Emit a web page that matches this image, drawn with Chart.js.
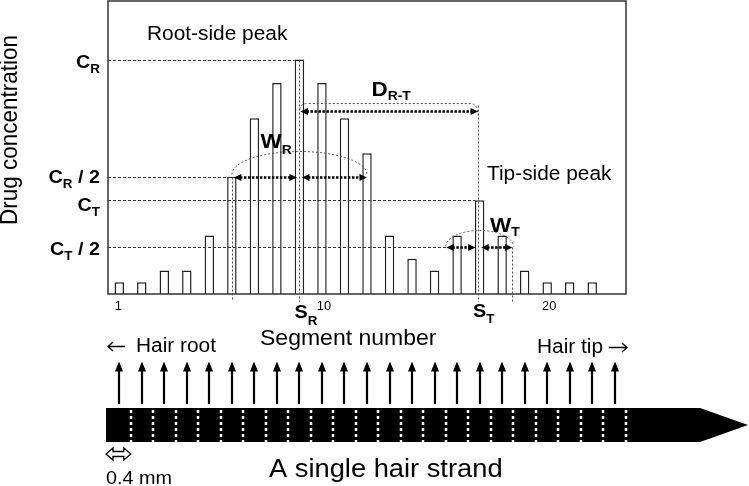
<!DOCTYPE html>
<html>
<head>
<meta charset="utf-8">
<script src="https://cdn.jsdelivr.net/npm/chart.js@4/dist/chart.umd.min.js"></script>
<style>
    html, body { margin: 0; padding: 0; background: #fff; }
    #wrap { width: 749px; height: 486px; }
</style>
</head>
<body>
<div id="wrap"><canvas id="hair-chart" width="749" height="486"></canvas></div>
<script>
const segments = ["1", "2", "3", "4", "5", "6", "7", "8", "9", "10", "11", "12",
    "13", "14", "15", "16", "17", "18", "19", "20", "21", "22", "23"];
const concentration = [0.5, 0.5, 1, 1, 2.5, 5, 7.5, 9, 10, 9, 7.5, 6,
    2.5, 1.5, 1, 2.5, 4, 2.5, 1, 0.5, 0.5, 0.5, 0];
const tickSegments = ["1", "10", "20"];

// peaks and half-height spans, in segment numbers
const rootPeak = 9;
const tipPeak = 17;
const rootSpan = [6, 12];
const tipSpan = [15.5, 18.5];
const distanceLevel = 7.8;

const levelSubs = ["R", "R", "T", "T"];
const levelTails = ["", " / 2", "", " / 2"];
const levelValues = [
    concentration[rootPeak - 1],
    concentration[rootPeak - 1] / 2,
    concentration[tipPeak - 1],
    concentration[tipPeak - 1] / 2
];

const FONT = "\"Liberation Sans\", Arial, sans-serif";
const STRETCH = 1.07; // the original lettering is a little wide

function setFont(ctx, size, bold, family) {
    ctx.font = `${bold ? "bold " : ""}${size}px ${family || FONT}`;
}

function stretched(ctx, str, x, base) {
    ctx.save();
    ctx.translate(x, base);
    ctx.scale(STRETCH, 1);
    ctx.fillText(str, 0, 0);
    ctx.restore();
    return ctx.measureText(str).width * STRETCH;
}

function subText(ctx, x, base, main, sub, tail, size, subSize, drop, alignRight) {
    setFont(ctx, size, true);
    const w1 = ctx.measureText(main).width * STRETCH;
    const w3 = ctx.measureText(tail).width * STRETCH;
    setFont(ctx, subSize, true);
    const w2 = ctx.measureText(sub).width * STRETCH;
    const sx = alignRight ? x - (w1 + w2 + w3) : x;

    ctx.textAlign = "left";
    ctx.textBaseline = "alphabetic";
    setFont(ctx, size, true);
    stretched(ctx, main, sx, base);
    stretched(ctx, tail, sx + w1 + w2, base);
    setFont(ctx, subSize, true);
    stretched(ctx, sub, sx + w1, base + drop);
}

function plainText(ctx, str, x, base, size, align) {
    setFont(ctx, size, false);
    ctx.textBaseline = "alphabetic";
    ctx.textAlign = "left";
    const w = ctx.measureText(str).width * STRETCH;
    const sx = align === "center" ? x - w / 2 : x;
    return stretched(ctx, str, sx, base);
}

function head(ctx, tipX, tipY, dx, dy, len, half) {
    const bx = tipX - dx * len;
    const by = tipY - dy * len;
    ctx.beginPath();
    ctx.moveTo(tipX, tipY);
    ctx.lineTo(bx - dy * half, by + dx * half);
    ctx.lineTo(bx + dy * half, by - dx * half);
    ctx.closePath();
    ctx.fill();
}

function dottedArrow(ctx, x1, x2, yy) {
    ctx.save();
    ctx.strokeStyle = "#000";
    ctx.fillStyle = "#000";
    ctx.lineWidth = 2.5;
    ctx.setLineDash([2.5, 1.5]);
    ctx.beginPath();
    ctx.moveTo(x1 + 6, yy);
    ctx.lineTo(x2 - 6, yy);
    ctx.stroke();
    ctx.setLineDash([]);
    head(ctx, x1, yy, -1, 0, 7.5, 3.5);
    head(ctx, x2, yy, 1, 0, 7.5, 3.5);
    ctx.restore();
}

function thinDash(ctx, color, dash) {
    ctx.strokeStyle = color;
    ctx.lineWidth = 1;
    ctx.setLineDash(dash);
}

function thinArrow(ctx, x1, x2, yy) {
    // plain text arrow, like the ← and → glyphs of the original
    const dir = Math.sign(x2 - x1);
    ctx.save();
    ctx.strokeStyle = "#000";
    ctx.lineWidth = 1.3;
    ctx.beginPath();
    ctx.moveTo(x1, yy);
    ctx.lineTo(x2, yy);
    ctx.moveTo(x2 - dir * 5, yy - 4.5);
    ctx.lineTo(x2, yy);
    ctx.lineTo(x2 - dir * 5, yy + 4.5);
    ctx.stroke();
    ctx.restore();
}

const diagramPlugin = {
    id: "hairDiagram",
    afterDatasetsDraw(chart) {
        const { ctx, chartArea: area, scales: { x, y } } = chart;
        const xAt = seg => x.getPixelForValue(seg - 1);
        const yAt = v => Math.round(y.getPixelForValue(v)) + 0.5;
        const barHalf = chart.getDatasetMeta(0).data[0].width / 2;
        const dY = yAt(distanceLevel);

        ctx.save();

        // frame
        ctx.strokeStyle = "#333";
        ctx.lineWidth = 1.5;
        ctx.strokeRect(area.left, area.top, area.width, area.height);

        // level lines
        const levelEnds = [
            xAt(rootPeak) - barHalf,
            xAt(rootSpan[0]),
            xAt(tipPeak) - barHalf,
            xAt(tipSpan[0])
        ];
        thinDash(ctx, "#333", [3, 2]);
        levelValues.forEach((v, i) => {
            ctx.beginPath();
            ctx.moveTo(area.left, yAt(v));
            ctx.lineTo(levelEnds[i], yAt(v));
            ctx.stroke();
        });

        // vertical guides
        thinDash(ctx, "#555", [2, 2]);
        const guides = [
            [xAt(rootPeak), yAt(levelValues[0]), area.bottom + 8],
            [xAt(rootSpan[0]), yAt(levelValues[1]), area.bottom + 6],
            [xAt(tipPeak) - 1.5, dY - 6, area.bottom + 8],
            [xAt(tipSpan[1]) - 1, yAt(levelValues[3]), area.bottom + 8]
        ];
        guides.forEach(([gx, y1, y2]) => {
            ctx.beginPath();
            ctx.moveTo(Math.round(gx) + 0.5, y1);
            ctx.lineTo(Math.round(gx) + 0.5, y2);
            ctx.stroke();
        });

        // arcs over the width arrows
        const rootMid = (xAt(rootSpan[0]) + xAt(rootSpan[1])) / 2;
        const rootRx = (xAt(rootSpan[1]) - xAt(rootSpan[0])) / 2;
        ctx.beginPath();
        ctx.ellipse(rootMid, yAt(levelValues[1]) - 3, rootRx, 23, 0, Math.PI, 2 * Math.PI);
        ctx.stroke();

        const tipMid = (xAt(tipSpan[0]) + xAt(tipSpan[1])) / 2;
        const tipRx = (xAt(tipSpan[1]) - xAt(tipSpan[0])) / 2;
        ctx.beginPath();
        ctx.ellipse(tipMid, yAt(levelValues[3]) - 1, tipRx, 16, 0, Math.PI, 2 * Math.PI);
        ctx.stroke();

        // bracket over the distance arrow
        const bl = xAt(rootPeak) + 0.5;
        const br = xAt(tipPeak) - 1.5;
        const bt = dY - 8;
        ctx.beginPath();
        ctx.moveTo(bl, dY - 2);
        ctx.quadraticCurveTo(bl, bt, bl + 8, bt);
        ctx.lineTo(br - 8, bt);
        ctx.quadraticCurveTo(br, bt, br, dY + 4);
        ctx.stroke();
        ctx.setLineDash([]);

        // dotted arrows
        const yR2 = yAt(levelValues[1]);
        const yT2 = yAt(levelValues[3]);
        dottedArrow(ctx, xAt(rootSpan[0]) + 2, xAt(rootPeak) - 2.5, yR2);
        dottedArrow(ctx, xAt(rootPeak) + 2.5, xAt(rootSpan[1]), yR2);
        dottedArrow(ctx, xAt(rootPeak) + 1, xAt(tipPeak) - 1.5, dY);
        dottedArrow(ctx, xAt(tipSpan[0]) + 0.5, xAt(tipPeak) - 4, yT2);
        dottedArrow(ctx, xAt(tipPeak) + 1.5, xAt(tipSpan[1]) - 1, yT2);

        ctx.fillStyle = "#000";

        // width / distance labels
        subText(ctx, xAt(rootPeak) - 39, yR2 - 30, "W", "R", "", 21, 13, 6, false);
        subText(ctx, xAt(rootPeak) + 72, dY - 16, "D", "R-T", "", 21, 13, 4, false);
        subText(ctx, xAt(tipPeak) + 10.5, yT2 - 16, "W", "T", "", 21, 13, 4, false);

        // level labels
        const labelDrop = [7, 5, 10, 7];
        levelValues.forEach((v, i) => {
            subText(ctx, 100, yAt(v) + labelDrop[i], "C", levelSubs[i], levelTails[i], 18.5, 12.5, 5, true);
        });

        // x ticks and peak segments
        tickSegments.forEach(s => {
            plainText(ctx, s, xAt(Number(s)) + (s === "1" ? -1 : 2), area.bottom + 16, 12, "center");
        });
        subText(ctx, xAt(rootPeak) - 5, area.bottom + 24, "S", "R", "", 18.5, 12.5, 7, false);
        subText(ctx, xAt(tipPeak) - 6.5, area.bottom + 23, "S", "T", "", 18.5, 12.5, 6, false);

        // titles
        plainText(ctx, "Segment number", 260, 345, 21.5);
        plainText(ctx, "Root-side peak", 147, 40, 19.5);
        plainText(ctx, "Tip-side peak", 487, 180, 19.5);
        ctx.save();
        ctx.translate(17, 130);
        ctx.rotate(-Math.PI / 2);
        ctx.scale(1, STRETCH);
        setFont(ctx, 22.5, false);
        ctx.textAlign = "center";
        ctx.textBaseline = "alphabetic";
        ctx.fillText("Drug concentration", 0, 0);
        ctx.restore();

        // hair strand
        thinArrow(ctx, 125, 108, 346.5);
        plainText(ctx, "Hair root", 136, 352, 19.5);
        const tipW = plainText(ctx, "Hair tip", 537, 353, 19.5);
        thinArrow(ctx, 537 + tipW + 6, 627, 347.5);

        ctx.strokeStyle = "#000";
        ctx.lineWidth = 2.2;
        segments.forEach((s, i) => {
            const ax = Math.round(xAt(i + 1));
            ctx.beginPath();
            ctx.moveTo(ax, 404);
            ctx.lineTo(ax, 369);
            ctx.stroke();
            head(ctx, ax, 361.5, 0, -1, 10, 4);
        });

        const sLeft = area.left - 2;
        ctx.beginPath();
        ctx.moveTo(sLeft, 408);
        ctx.lineTo(700, 408);
        ctx.lineTo(748, 425);
        ctx.lineTo(700, 442);
        ctx.lineTo(sLeft, 442);
        ctx.closePath();
        ctx.fill();

        ctx.strokeStyle = "#fff";
        ctx.lineWidth = 2.5;
        ctx.setLineDash([3, 3]);
        segments.forEach((s, i) => {
            const bx = Math.round(x.getPixelForValue(i + 0.5));
            ctx.beginPath();
            ctx.moveTo(bx, 410);
            ctx.lineTo(bx, 442);
            ctx.stroke();
        });
        ctx.setLineDash([]);

        // 0.4 mm marker
        const mx1 = sLeft;
        const mx2 = xAt(2) - 11;
        const my = 454;
        ctx.beginPath();
        ctx.moveTo(mx1, my);
        ctx.lineTo(mx1 + 7, my - 6);
        ctx.lineTo(mx1 + 7, my - 2.5);
        ctx.lineTo(mx2 - 7, my - 2.5);
        ctx.lineTo(mx2 - 7, my - 6);
        ctx.lineTo(mx2, my);
        ctx.lineTo(mx2 - 7, my + 6);
        ctx.lineTo(mx2 - 7, my + 2.5);
        ctx.lineTo(mx1 + 7, my + 2.5);
        ctx.lineTo(mx1 + 7, my + 6);
        ctx.closePath();
        ctx.fillStyle = "#fff";
        ctx.fill();
        ctx.strokeStyle = "#000";
        ctx.lineWidth = 1.3;
        ctx.stroke();

        ctx.fillStyle = "#000";
        plainText(ctx, "0.4 mm", 106, 484, 18.5);
        plainText(ctx, "A single hair strand", 269, 477, 25.5);

        ctx.restore();
    }
};

new Chart(document.getElementById("hair-chart"), {
    type: "bar",
    data: {
        labels: segments,
        datasets: [
            {
                label: "Drug concentration",
                data: concentration,
                backgroundColor: "#fff",
                borderColor: "#222",
                borderWidth: 1.5,
                barPercentage: 0.42,
                categoryPercentage: 1
            }
        ]
    },
    options: {
        responsive: false,
        animation: false,
        devicePixelRatio: 1,
        layout: {
            padding: { left: 108, right: 123, top: 1, bottom: 192 }
        },
        plugins: {
            legend: { display: false },
            tooltip: { enabled: false }
        },
        scales: {
            x: { display: false, offset: true },
            y: { display: false, min: 0, max: 12.5 }
        }
    },
    plugins: [diagramPlugin]
});
</script>
</body>
</html>
